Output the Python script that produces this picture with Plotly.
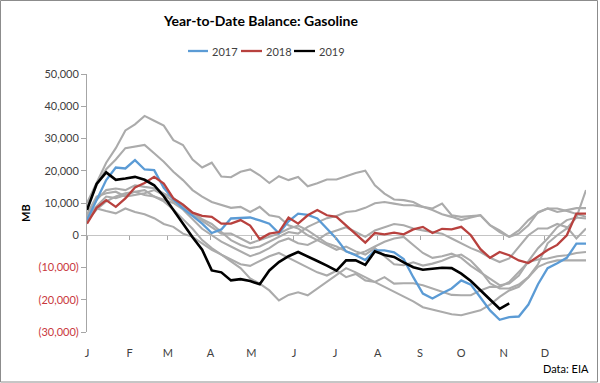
import plotly.graph_objects as go

# ---------------- data ----------------
weeks = list(range(1, 54))
month_labels = ["J", "F", "M", "A", "M", "J", "J", "A", "S", "O", "N", "D"]
month_ticks = [1, 5.43, 9.43, 13.86, 18.14, 22.57, 26.86, 31.29, 35.71, 40.0, 44.43, 48.71]
y_ticks = [-30000, -20000, -10000, 0, 10000, 20000, 30000, 40000, 50000]

hist_2010 = [10000, 16500, 22500, 27000, 32500, 34400, 37000, 35500, 34000, 29500, 28000, 23500, 21000,
             22500, 18200, 18000, 19700, 20400, 18600, 16200, 18300, 17100, 18100, 15200, 16100, 17300,
             17300, 18300, 19300, 20000, 15500, 12900, 11100, 10900, 10300, 8800, 8300, 9800, 6200,
             5700, 6000, 6200, 3100, 1500, -500, 1500, 4700, 7000, 8300, 8300, 7500, 6700, 5700]
hist_2011 = [8800, 15500, 20500, 23500, 27000, 27600, 28000, 25400, 22800, 19700, 17100, 14000, 12000,
             10300, 9500, 8500, 8800, 7200, 8800, 6200, 5700, 3100, 2100, 0, -1500, -3000,
             -4500, -3500, -5000, -6000, -4000, -6500, -9000, -9300, -8400, -9400, -8800, -7900, -6700,
             -6000, -7900, -11000, -14900, -16500, -16500, -15300, -13000, -9000, -2500, 0, 2100, 5500, 14000]
hist_2012 = [6000, 11000, 14000, 14500, 14000, 15500, 15000, 14600, 13000, 11500, 9500, 7000, 5000,
             3500, 1000, -1500, -3000, -4000, -3500, -2000, -500, 1000, 500, 2600, 4000, 5300,
             6000, 7200, 7500, 8500, 9900, 10300, 9800, 9300, 9300, 8800, 7800, 6500, 5700,
             4700, 5500, 6200, 3100, 1000, -500, 500, 3100, 7200, 8300, 7200, 7800, 8400, 8400]
hist_2013 = [5500, 9000, 12000, 11500, 12500, 13500, 14000, 12000, 11000, 10000, 8000, 5000, 2000,
             0, -2000, -3500, -5000, -6500, -5500, -4000, -2000, -1000, -2500, -3000, -1500, 500,
             1500, 2500, 1000, -500, 1500, 2500, 3500, 3100, 2100, 1500, 1000, 500, -1000,
             -2500, -4000, -5200, -7000, -8300, -7200, -3600, 0, 2100, 2100, 3500, 2500, -1000, 2100]
hist_2014 = [4500, 8000, 10500, 12000, 13000, 13500, 12500, 12000, 10500, 8000, 5000, 2000, -1500,
             -4000, -6000, -7500, -9000, -9500, -8000, -6500, -5500, -7000, -8500, -10000, -11500, -12500,
             -11000, -13000, -12000, -14000, -14500, -13000, -15000, -14900, -14900, -15500, -16500, -17500, -18500,
             -18600, -18600, -17100, -16000, -16000, -14500, -11400, -8300, -7500, -7200, -6500, -6200, -5500, -5200]
hist_2015 = [4700, 8300, 7500, 6800, 8300, 7200, 6500, 5300, 3500, 2600, 500, -500, -2500,
             -4500, -6000, -8000, -10200, -13400, -15000, -17100, -20200, -18500, -17700, -18600, -16500, -14600,
             -12500, -10200, -11500, -13000, -14600, -16000, -17700, -19100, -20500, -22300, -23000, -23800, -24500,
             -24800, -24000, -23300, -21500, -19100, -17100, -16000, -13000, -9800, -8500, -7800, -7800, -7800, -7800]
hist_2016 = [6500, 12000, 13000, 13500, 12000, 12500, 13000, 14000, 12500, 10500, 9000, 6500, 4500,
             2500, 500, 500, -1000, -2500, -1500, -500, 500, 2000, 3000, 1500, -500, -2500,
             -3500, -5000, -6000, -5000, -3500, -2000, -1000, -500, -3000, -5500, -7000, -6500, -5700,
             -7000, -9500, -11500, -13500, -15500, -15000, -12500, -8000, -4000, -1000, 2500, 4700, 5500, 5200]

y2017 = [4700, 10700, 17100, 21000, 20700, 23300, 20400, 20200, 14700, 11200, 8300, 6000, 3600,
         700, 1800, 5200, 5400, 5500, 4600, 3600, 600, 4300, 6700, 6300, 5200, 1900,
         -1100, -5000, -6200, -7700, -4700, -4700, -5300, -7400, -13000, -18100, -19600, -18000, -16500,
         -14000, -15300, -19300, -23300, -26200, -25400, -25200, -21500, -15200, -10200, -8700, -7000, -2600, -2600]
y2018 = [3600, 8500, 10900, 8800, 11400, 14800, 16200, 18100, 16000, 11400, 9500, 7000, 6000,
         5700, 3600, 3600, 4700, 3000, -1200, 500, 1000, 5500, 3600, 6200, 7800, 6200,
         5700, 3100, 500, -2300, 700, 300, 800, 300, 1800, 2600, 700, 2000, 1800,
         2600, 0, -4300, -7000, -5200, -6200, -7800, -8600, -6500, -4600, -3000, 0, 6700, 6700]
y2019 = [7800, 15900, 19500, 17200, 17600, 18100, 17200, 15500, 12100, 7800, 3700, -600, -4500,
         -10900, -11500, -14000, -13600, -14200, -15200, -10900, -8300, -6500, -5200, -6700, -8000, -9400,
         -11000, -7800, -7800, -9200, -5000, -6100, -6700, -8400, -9900, -10700, -10300, -10100, -10200,
         -11900, -14200, -17100, -19800, -22800, -21100]

history = [hist_2010, hist_2011, hist_2012, hist_2013, hist_2014, hist_2015, hist_2016]
highlight_names = ["2017", "2018", "2019"]
highlight_values = [y2017, y2018, y2019]

# ---------------- style ----------------
FONT = "Lato, 'Open Sans', sans-serif"
GRAY = "#ababab"
COLORS = ["#5b9bd5", "#b8413e", "#000000"]
WIDTHS = [2.3, 2.3, 2.6]
RED_TXT = "#c9383c"
TXT = "#404040"

L, R, T, B = 87, 14, 74, 51
W, H = 600, 383
PW, PH = W - L - R, H - T - B


def px(xp):
    return (xp - L) / PW


def py(yp):
    return (H - B - yp) / PH


def fmt(v):
    s = f"{abs(v):,}"
    if v < 0:
        return f"<span style='color:{RED_TXT}'>({s})</span>"
    return s


fig = go.Figure()
for vals in history:
    fig.add_trace(go.Scatter(x=weeks[:len(vals)], y=vals, mode="lines",
                             line=dict(color=GRAY, width=2.1), showlegend=False,
                             hoverinfo="skip"))
for name, vals, c, w in zip(highlight_names, highlight_values, COLORS, WIDTHS):
    fig.add_trace(go.Scatter(x=weeks[:len(vals)], y=vals, mode="lines", name=name,
                             line=dict(color=c, width=w), showlegend=False))
# carrier for the tick marks on the zero line
fig.add_trace(go.Scatter(x=[weeks[0]], y=[None], xaxis="x2", yaxis="y",
                         showlegend=False, hoverinfo="skip"))

shapes = [dict(type="rect", xref="paper", yref="paper",
               x0=px(0.5), x1=px(597.5), y0=py(382), y1=py(0.5),
               line=dict(color="#8c8c8c", width=1), layer="below")]
annotations = [
    dict(text="Year-to-Date Balance: Gasoline", xref="paper", yref="paper",
         x=px(260), y=py(20), xanchor="center", yanchor="middle", showarrow=False,
         font=dict(family=FONT, size=14, color="#000000", weight="bold")),
    dict(text="MB", xref="paper", yref="paper", x=px(25), y=py(213),
         xanchor="center", yanchor="middle", textangle=-90, showarrow=False,
         font=dict(family=FONT, size=11, color="#000000", weight="bold")),
    dict(text="Data: EIA", xref="paper", yref="paper", x=px(591), y=py(368),
         xanchor="right", yanchor="middle", showarrow=False,
         font=dict(family=FONT, size=11, color="#000000")),
]
# custom legend
leg_x = [(188, 208), (241, 262), (294, 315)]
leg_y = 51
for name, c, (a, b) in zip(highlight_names, COLORS, leg_x):
    shapes.append(dict(type="line", xref="paper", yref="paper", x0=px(a), x1=px(b),
                       y0=py(leg_y), y1=py(leg_y), line=dict(color=c, width=2.3)))
    annotations.append(dict(text=name, xref="paper", yref="paper", x=px(b + 1.5), y=py(leg_y),
                            xanchor="left", yanchor="middle", showarrow=False,
                            font=dict(family=FONT, size=11, color=TXT)))

fig.update_layout(
    template="none",
    width=W, height=H,
    margin=dict(l=L, r=R, t=T, b=B, pad=0),
    paper_bgcolor="white", plot_bgcolor="white",
    font=dict(family=FONT, size=11, color=TXT),
    showlegend=False,
    shapes=shapes, annotations=annotations,
    xaxis=dict(range=[1, 53], tickmode="array", tickvals=month_ticks, ticktext=month_labels,
               showgrid=False, zeroline=False, showline=False, ticks="",
               ticklabelstandoff=13, tickfont=dict(family=FONT, size=11, color=TXT)),
    xaxis2=dict(overlaying="x", matches="x", anchor="free", position=0.375, side="bottom",
                tickmode="array", tickvals=month_ticks, ticks="outside", ticklen=4,
                tickcolor="#a6a6a6", showticklabels=False, showgrid=False,
                zeroline=False, showline=False),
    yaxis=dict(range=[-30000, 50000], tickmode="array", tickvals=y_ticks,
               ticktext=[fmt(v) for v in y_ticks], showgrid=False,
               showline=True, linecolor="#a6a6a6", linewidth=1,
               ticks="outside", ticklen=5, tickcolor="#a6a6a6",
               zeroline=True, zerolinecolor="#c4c4c4", zerolinewidth=1,
               tickfont=dict(family=FONT, size=11, color=TXT)),
)

fig.write_html("out.html", config={"displayModeBar": False},
               post_script="document.body.style.margin='0';document.body.style.padding='0';")
